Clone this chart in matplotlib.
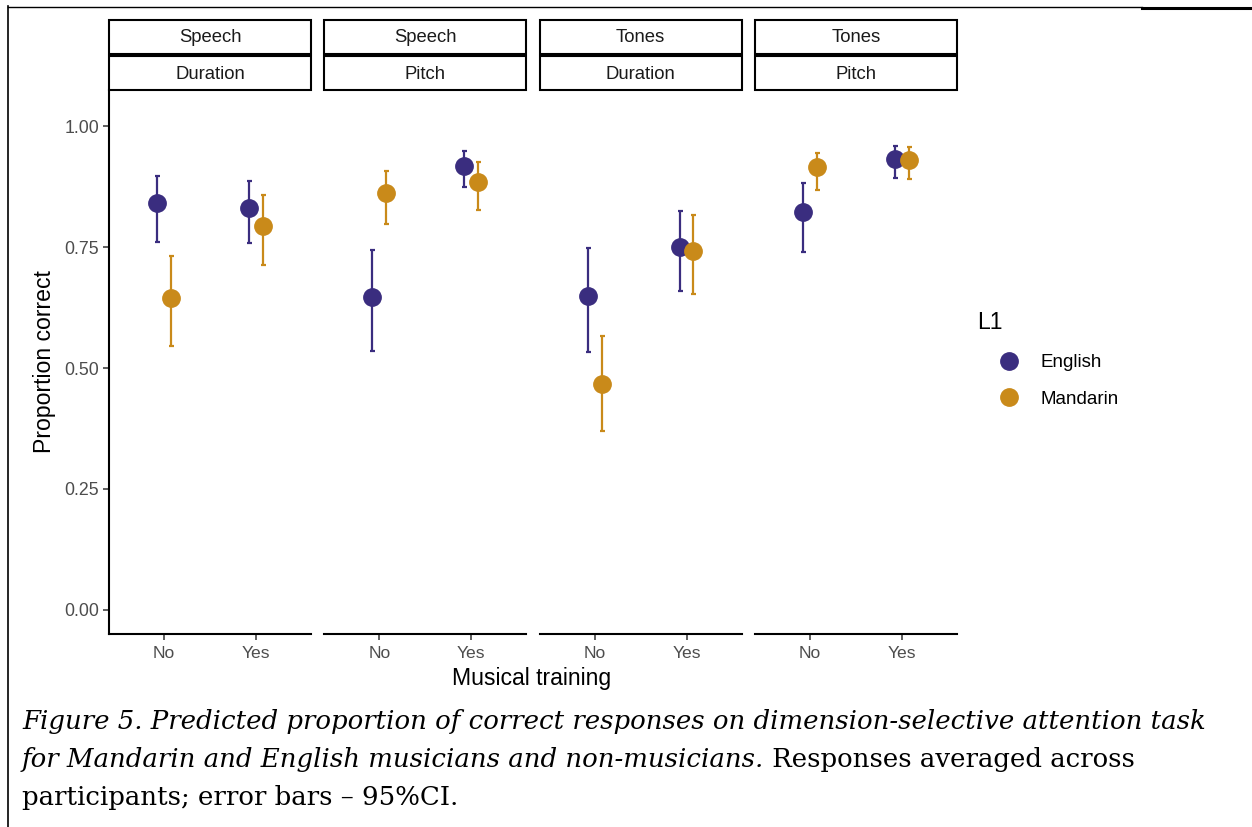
import matplotlib.pyplot as plt
from matplotlib.lines import Line2D
from matplotlib.patches import Rectangle

# Panels (ggplot facet strips: modality on top, dimension below)
modality = ["Speech", "Speech", "Tones", "Tones"]
dimension = ["Duration", "Pitch", "Duration", "Pitch"]
training = ["No", "Yes"]
groups = ["English", "Mandarin"]

# predicted proportion correct, one row per panel: [No, Yes]
english_mean = [[0.840, 0.831], [0.647, 0.917], [0.648, 0.751], [0.822, 0.931]]
english_lo = [[0.761, 0.758], [0.536, 0.873], [0.534, 0.660], [0.740, 0.892]]
english_hi = [[0.897, 0.886], [0.744, 0.948], [0.748, 0.824], [0.883, 0.958]]

mandarin_mean = [[0.644, 0.793], [0.861, 0.885], [0.467, 0.742], [0.915, 0.930]]
mandarin_lo = [[0.546, 0.712], [0.797, 0.826], [0.369, 0.652], [0.867, 0.890]]
mandarin_hi = [[0.731, 0.857], [0.908, 0.925], [0.567, 0.816], [0.945, 0.957]]

yticks = [0.00, 0.25, 0.50, 0.75, 1.00]

colors = {"English": "#3A2D7F", "Mandarin": "#C98A1A"}
font = "Liberation Sans"
W, H = 1252, 827

fig = plt.figure(figsize=(W / 100, H / 100), dpi=100)


def fx(px):
    return px / W


def fy(py):
    return 1 - py / H


panel_left = [109, 324.3, 539.6, 754.9]
panel_w = 202
top, bottom = 90, 634

data = {
    "English": (english_mean, english_lo, english_hi, -0.076),
    "Mandarin": (mandarin_mean, mandarin_lo, mandarin_hi, 0.076),
}

for i in range(4):
    ax = fig.add_axes([fx(panel_left[i]), fy(bottom), fx(panel_w), (bottom - top) / H])
    for g in groups:
        mean, lo, hi, off = data[g]
        xs = [j + 1 + off for j in range(2)]
        m = mean[i]
        err = [[m[j] - lo[i][j] for j in range(2)], [hi[i][j] - m[j] for j in range(2)]]
        ax.errorbar(xs, m, yerr=err, fmt='o', ms=12.5, color=colors[g],
                    ecolor=colors[g], elinewidth=1.6, capsize=1.8, capthick=1.6,
                    mec=colors[g], zorder=3)
    ax.set_xlim(0.4, 2.6)
    ax.set_ylim(-0.0496, 1.0744)
    ax.set_xticks([1, 2])
    ax.set_xticklabels(training, fontfamily=font, fontsize=12.6, color="#4D4D4D")
    ax.tick_params(axis='x', length=4, width=1.1, color="#333333", pad=5)
    for s in ["top", "right"]:
        ax.spines[s].set_visible(False)
    ax.spines["bottom"].set_linewidth(1.5)
    if i == 0:
        ax.set_yticks(yticks)
        ax.set_yticklabels([f"{t:.2f}" for t in yticks], fontfamily=font,
                           fontsize=12.8, color="#4D4D4D")
        ax.tick_params(axis='y', length=4, width=1.1, color="#333333", pad=3)
        ax.spines["left"].set_linewidth(1.5)
        ax.set_ylabel("Proportion correct", fontfamily=font, fontsize=16.6, labelpad=6)
    else:
        ax.spines["left"].set_visible(False)
        ax.set_yticks([])

    # facet strips
    for (y0, y1, txt) in [(20, 53.5, modality[i]), (56, 90, dimension[i])]:
        fig.patches.append(Rectangle((fx(panel_left[i]), fy(y1)), fx(panel_w), (y1 - y0) / H,
                                     transform=fig.transFigure, facecolor="white",
                                     edgecolor="black", linewidth=1.5))
        fig.text(fx(panel_left[i] + panel_w / 2), fy((y0 + y1) / 2 + 1.2), txt, ha='center',
                 va='center', fontfamily=font, fontsize=13.3, color="#1A1A1A")

fig.text(fx(532), fy(678), "Musical training", ha='center', va='center',
         fontfamily=font, fontsize=16.6)

# legend
handles = [Line2D([], [], marker='o', ls='', ms=12.5, color=colors[g]) for g in groups]
leg = fig.legend(handles, groups, title="L1", loc='upper left',
                 bbox_to_anchor=(fx(960), fy(294.5)), frameon=False, alignment='left',
                 prop={'family': font, 'size': 13.5}, handletextpad=0.0,
                 labelspacing=1.05, handlelength=3.4)
leg.get_title().set_fontfamily(font)
leg.get_title().set_fontsize(16.6)

# caption
cap = "DejaVu Serif"
cs = 18.7
fig.text(fx(22), fy(722), "Figure 5. Predicted proportion of correct responses on dimension-selective attention task",
         ha='left', va='center', fontfamily=cap, fontstyle='italic', fontsize=cs)
t2 = fig.text(fx(22), fy(760), "for Mandarin and English musicians and non-musicians.",
              ha='left', va='center', fontfamily=cap, fontstyle='italic', fontsize=cs)
fig.canvas.draw()
bb = t2.get_window_extent()
fig.text(bb.x1 / W, fy(760), " Responses averaged across", ha='left', va='center',
         fontfamily=cap, fontsize=cs)
fig.text(fx(22), fy(797), "participants; error bars \u2013 95%CI.", ha='left', va='center',
         fontfamily=cap, fontsize=cs)

# page border
fig.add_artist(Line2D([fx(8), fx(8)], [fy(6), 0], transform=fig.transFigure, color="black", lw=1.2))
fig.add_artist(Line2D([fx(8), fx(1142)], [fy(7), fy(7)], transform=fig.transFigure, color="black", lw=1.0))
fig.add_artist(Line2D([fx(1142), 1], [fy(7.5), fy(7.5)], transform=fig.transFigure, color="black", lw=2.2))

fig.savefig("out.png", dpi=100)
